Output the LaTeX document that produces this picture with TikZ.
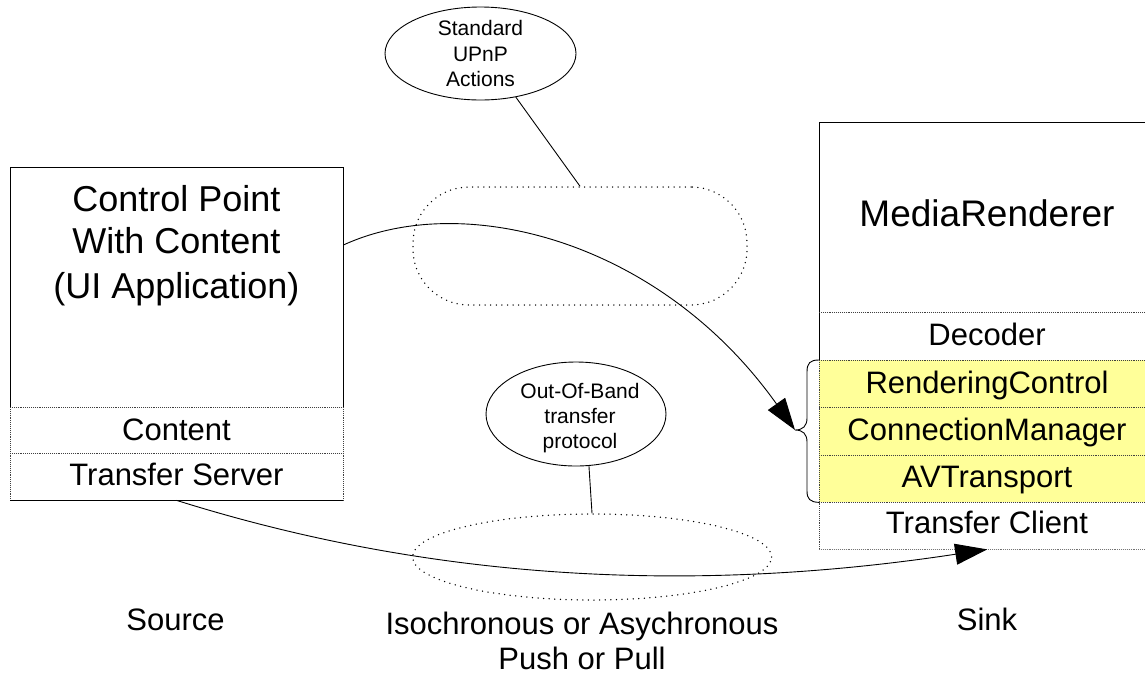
\documentclass[tikz,border=0pt]{standalone}
\usepackage{fontspec}
\setmainfont{Liberation Sans}
\usetikzlibrary{arrows.meta,shapes.geometric,calc}
\definecolor{svcyellow}{HTML}{FFFF99}
\begin{document}
\begin{tikzpicture}[x=1pt,y=-1pt,
  sec/.style={rectangle, draw=none, inner sep=0pt, anchor=north west},
  frame/.style={draw=black, line width=0.9pt},
  divline/.style={draw=black!75, line width=0.9pt, densely dotted},
  zone/.style={draw=black, line width=1.5pt, line cap=round, dash pattern=on 0pt off 5.6pt},
  callout/.style={ellipse, draw=black, line width=0.9pt, inner sep=0pt},
  conn/.style={draw=black, line width=0.9pt},
  bigtxt/.style={anchor=base, inner sep=0pt, font=\fontsize{36}{40}\selectfont},
  midtxt/.style={anchor=base, inner sep=0pt, font=\fontsize{31}{36}\selectfont},
  smalltxt/.style={anchor=base, inner sep=0pt, font=\fontsize{21}{25}\selectfont},
  bigarrow/.style={-{Triangle[length=32pt,width=21pt]}}
]
\useasboundingbox (0,0) rectangle (1145,675);
\clip (0,0) rectangle (1145,675);

% ---------- left box (source) ----------
\node[sec, minimum width=333pt, minimum height=240pt] (cp) at (10,167) {};
\node[sec, minimum width=333pt, minimum height=46pt] (content) at (10,407) {};
\node[sec, minimum width=333pt, minimum height=47pt] (ts) at (10,453) {};
\draw[frame] (cp.south west) -- (cp.north west) -- (cp.north east) -- (cp.south east);
\draw[divline] (content.north west) -- (content.north east);
\draw[divline] (ts.north west) -- (ts.north east);
\draw[divline] (content.north west) -- (ts.south west);
\draw[divline] (content.north east) -- (ts.south east);
\draw[frame] (ts.south west) -- (ts.south east);

\node[bigtxt] (cpt1) at (176.5,211) {Control Point};
\node[bigtxt] (cpt2) at (176.5,253) {With Content};
\node[bigtxt] (cpt3) at (176.5,298) {(UI Application)};
\node[midtxt] (contentt) at (176.5,440) {Content};
\node[midtxt] (tst) at (176.5,485) {Transfer Server};

% ---------- right box (sink) ----------
\node[sec, minimum width=336pt, minimum height=190pt] (mr) at (819,122) {};
\node[sec, minimum width=336pt, minimum height=48pt] (dec) at (819,312) {};
\node[sec, fill=svcyellow, minimum width=336pt, minimum height=47pt] (rc) at (819,360) {};
\node[sec, fill=svcyellow, minimum width=336pt, minimum height=48pt] (cm) at (819,407) {};
\node[sec, fill=svcyellow, minimum width=336pt, minimum height=47pt] (avt) at (819,455) {};
\node[sec, minimum width=336pt, minimum height=47pt] (tc) at (819,502) {};
\draw[frame] (dec.south west) -- (mr.north west) -- (mr.north east);
\draw[divline] (dec.north west) -- (dec.north east);
\draw[divline] (rc.north west) -- (rc.north east);
\draw[divline] (cm.north west) -- (cm.north east);
\draw[divline] (avt.north west) -- (avt.north east);
\draw[divline] (tc.north west) -- (tc.north east);
\draw[divline] (rc.north west) -- (tc.south west);
\draw[divline, draw=black!55, line width=1.6pt] (tc.south west) -- (tc.south east);

\node[anchor=base, inner sep=0pt, font=\fontsize{37}{40}\selectfont] (mrt) at (987,226) {MediaRenderer};
\node[midtxt] (dect) at (987,345) {Decoder};
\node[midtxt] (rct) at (987,393) {RenderingControl};
\node[midtxt] (cmt) at (987,440) {ConnectionManager};
\node[midtxt] (avtt) at (987,487) {AVTransport};
\node[midtxt] (tct) at (987,533) {Transfer Client};

% brace grouping the three services
\coordinate (bracetip) at (795,430);
\draw[conn] (rc.north west) .. controls (810,360) and (807,363) .. (807,372)
  -- (807,418) .. controls (807,426) and (803,430) .. (bracetip)
  .. controls (803,430) and (807,434) .. (807,442)
  -- (807,491) .. controls (807,499) and (810,502) .. (avt.south west);

% ---------- zones ----------
\node[rectangle, zone, rounded corners=56pt, minimum width=334pt, minimum height=118pt, inner sep=0pt] (upnpzone) at (580,246) {};
\node[ellipse, zone, minimum width=359pt, minimum height=86pt, inner sep=0pt] (oobzone) at (592,557) {};

% ---------- callouts ----------
\node[callout, minimum width=191pt, minimum height=93pt] (upnpcallout) at (480.5,53.5) {};
\node[smalltxt] (upt1) at (480.5,35) {Standard};
\node[smalltxt] (upt2) at (480.5,61) {UPnP};
\node[smalltxt] (upt3) at (480.5,86) {Actions};
\draw[conn] (upnpcallout.-51) -- (upnpzone.north);

\node[callout, minimum width=180pt, minimum height=104pt] (oobcallout) at (576,414) {};
\node[smalltxt] (oobt1) at (580,398) {Out-Of-Band};
\node[smalltxt] (oobt2) at (580,423) {transfer};
\node[smalltxt] (oobt3) at (580,448) {protocol};
\draw[conn] (oobcallout.-76) -- (oobzone.north);

% ---------- connectors ----------
\draw[conn, bigarrow] ($(cp.north east)+(0,78)$) .. controls (463,190) and (660,240) .. (bracetip);
\draw[conn, bigarrow] (ts.south) .. controls (427,579) and (687,595) .. (tc.south);

% ---------- labels ----------
\node[midtxt] (source) at (175.5,630) {Source};
\node[midtxt] (sink) at (987,630) {Sink};
\node[midtxt] (iso) at (582,634) {Isochronous or Asychronous};
\node[midtxt] (push) at (582,669) {Push or Pull};
\end{tikzpicture}
\end{document}
